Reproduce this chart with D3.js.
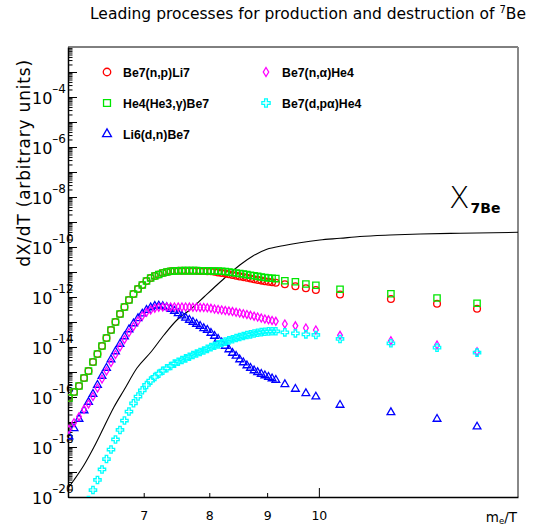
<!DOCTYPE html>
<html><head><meta charset="utf-8">
<script src="https://cdn.jsdelivr.net/npm/d3@7"></script>
<style>html,body{margin:0;padding:0;background:#fff}svg{display:block}</style>
</head><body>
<svg id="chart" width="538" height="531"></svg>
<script>
// ---------- data ----------
const xValues = [6.012, 6.074, 6.136, 6.199, 6.256, 6.313, 6.371, 6.430, 6.489, 6.549,
 6.609, 6.670, 6.731, 6.793, 6.856, 6.919, 6.980, 7.040, 7.100, 7.160,
 7.218, 7.277, 7.336, 7.395, 7.452, 7.510, 7.567, 7.624, 7.682, 7.738,
 7.795, 7.852, 7.910, 7.968, 8.027, 8.086, 8.145, 8.205, 8.265, 8.326,
 8.387, 8.449, 8.511, 8.574, 8.637, 8.700, 8.764, 8.828, 8.893, 8.959,
 9.025, 9.091, 9.161, 9.331, 9.533, 9.739, 9.939, 10.44, 11.58, 12.72, 13.80];

const seriesNames = ["Be7(n,p)Li7", "He4(He3,\u03b3)Be7", "Li6(d,n)Be7", "Be7(n,\u03b1)He4", "Be7(d,p\u03b1)He4"];

const be7npLi7 = [9.12e-17, 1.585e-16, 2.754e-16, 5.754e-16, 1.096e-15, 2.512e-15, 5.248e-15, 1.096e-14, 2.291e-14, 4.786e-14,
 1.0e-13, 2.089e-13, 3.981e-13, 7.586e-13, 1.318e-12, 2.089e-12, 3.02e-12, 4.365e-12, 5.754e-12, 6.918e-12,
 7.943e-12, 9.12e-12, 1.0e-11, 1.067e-11, 1.096e-11, 1.12e-11, 1.13e-11, 1.13e-11, 1.13e-11, 1.12e-11,
 1.11e-11, 1.10e-11, 1.09e-11, 1.08e-11, 1.067e-11, 1.02e-11, 9.64e-12, 9.12e-12, 8.63e-12, 8.09e-12,
 7.59e-12, 7.11e-12, 6.67e-12, 6.25e-12, 5.86e-12, 5.5e-12, 5.15e-12, 4.83e-12, 4.53e-12, 4.29e-12,
 4.06e-12, 3.87e-12, 3.73e-12, 3.22e-12, 2.68e-12, 2.23e-12, 1.905e-12, 1.259e-12, 8.32e-13, 5.4e-13, 3.4e-13];

const he4He3gBe7 = [9.12e-17, 1.585e-16, 2.754e-16, 5.754e-16, 1.096e-15, 2.512e-15, 5.248e-15, 1.096e-14, 2.291e-14, 4.786e-14,
 1.0e-13, 2.089e-13, 3.981e-13, 7.586e-13, 1.318e-12, 2.089e-12, 3.02e-12, 4.365e-12, 5.754e-12, 6.918e-12,
 7.943e-12, 9.12e-12, 1.0e-11, 1.067e-11, 1.096e-11, 1.12e-11, 1.13e-11, 1.13e-11, 1.13e-11, 1.13e-11,
 1.13e-11, 1.12e-11, 1.12e-11, 1.11e-11, 1.10e-11, 1.10e-11, 1.096e-11, 1.076e-11, 1.047e-11, 1.0e-11,
 9.55e-12, 9.12e-12, 8.71e-12, 8.32e-12, 7.87e-12, 7.45e-12, 7.05e-12, 6.67e-12, 6.31e-12, 6.03e-12,
 5.75e-12, 5.6e-12, 5.45e-12, 4.49e-12, 4.06e-12, 3.31e-12, 2.94e-12, 2.05e-12, 1.355e-12, 9.12e-13, 5.6e-13];

const li6dnBe7 = [2.63e-18, 5.6e-18, 1.318e-17, 2.884e-17, 6.31e-17, 1.318e-16, 3.02e-16, 6.92e-16, 1.445e-15, 3.16e-15,
 6.61e-15, 1.318e-14, 2.63e-14, 5.01e-14, 8.71e-14, 1.406e-13, 2.15e-13, 3.02e-13, 3.8e-13, 4.37e-13,
 4.49e-13, 4.25e-13, 3.87e-13, 3.31e-13, 2.75e-13, 2.23e-13, 1.786e-13, 1.472e-13, 1.202e-13, 1.0e-13,
 8.32e-14, 6.92e-14, 5.6e-14, 4.79e-14, 3.63e-14, 2.75e-14, 2.09e-14, 1.514e-14, 1.096e-14, 7.94e-15,
 5.75e-15, 4.37e-15, 3.16e-15, 2.4e-15, 1.82e-15, 1.445e-15, 1.148e-15, 9.73e-16, 8.32e-16, 7.24e-16,
 6.31e-16, 5.5e-16, 4.79e-16, 3.22e-16, 2.09e-16, 1.406e-16, 1.028e-16, 4.79e-17, 2.44e-17, 1.318e-17, 6.49e-18];

const be7naHe4 = [5.1e-18, 9.38e-18, 1.63e-17, 3.22e-17, 5.25e-17, 1.047e-16, 2.29e-16, 5.25e-16, 1.096e-15, 2.4e-15,
 5.01e-15, 1.0e-14, 2.0e-14, 3.8e-14, 6.61e-14, 1.096e-13, 1.738e-13, 2.44e-13, 3.02e-13, 3.53e-13,
 3.87e-13, 3.98e-13, 4.0e-13, 4.0e-13, 4.0e-13, 4.0e-13, 3.98e-13, 3.98e-13, 3.95e-13, 3.9e-13,
 3.87e-13, 3.83e-13, 3.8e-13, 3.72e-13, 3.53e-13, 3.31e-13, 3.16e-13, 3.02e-13, 2.88e-13, 2.75e-13,
 2.61e-13, 2.44e-13, 2.29e-13, 2.15e-13, 2.0e-13, 1.85e-13, 1.71e-13, 1.585e-13, 1.445e-13, 1.318e-13,
 1.225e-13, 1.148e-13, 1.067e-13, 8.32e-14, 7.05e-14, 5.75e-14, 4.79e-14, 2.94e-14, 1.786e-14, 1.202e-14, 6.49e-15];

const be7dpaHe4 = [null, null, null, null, 7.59e-21, 1.905e-20, 4.79e-20, 1.259e-19, 3.31e-19, 7.94e-19,
 2.0e-18, 4.79e-18, 1.148e-17, 2.63e-17, 5.6e-17, 1.047e-16, 1.854e-16, 3.02e-16, 4.49e-16, 6.31e-16,
 8.55e-16, 1.127e-15, 1.406e-15, 1.738e-15, 2.15e-15, 2.58e-15, 3.02e-15, 3.53e-15, 4.09e-15, 4.79e-15,
 5.5e-15, 6.31e-15, 7.24e-15, 8.47e-15, 9.82e-15, 1.117e-14, 1.27e-14, 1.445e-14, 1.644e-14, 1.837e-14,
 2.05e-14, 2.29e-14, 2.51e-14, 2.75e-14, 3.02e-14, 3.22e-14, 3.47e-14, 3.7e-14, 3.91e-14, 4.09e-14,
 4.21e-14, 4.25e-14, 4.25e-14, 3.87e-14, 3.53e-14, 3.22e-14, 3.02e-14, 2.09e-14, 1.406e-14, 9.38e-15, 5.92e-15];

// abundance curve X_7Be
const curveX = [6.0, 6.074, 6.199, 6.326, 6.456, 6.589, 6.725, 6.905, 7.104, 7.295, 7.490, 7.707, 7.913, 8.125,
 8.292, 8.514, 8.743, 8.995, 9.293, 9.620, 10.02, 10.44, 10.87, 11.56, 12.29, 13.33, 15.0];
const curveY = [2.23e-20, 4.79e-20, 1.905e-19, 1.0e-18, 6.31e-18, 3.98e-17, 1.905e-16, 1.445e-15, 6.31e-15, 3.02e-14,
 1.202e-13, 3.31e-13, 1.0e-12, 3.02e-12, 6.92e-12, 1.905e-11, 4.37e-11, 8.09e-11, 1.127e-10, 1.486e-10,
 1.905e-10, 2.23e-10, 2.63e-10, 3.02e-10, 3.31e-10, 3.56e-10, 3.87e-10];

const xTickValues = [7, 8, 9, 10];
const xTickLabels = ["7", "8", "9", "10"];
const yLabelExponents = [-20, -18, -16, -14, -12, -10, -8, -6, -4];

// ---------- layout ----------
const FONT = "'DejaVu Sans', sans-serif";
const P = {left: 68, right: 518, top: 47, bottom: 497};
const svg = d3.select("#chart");
svg.append("rect").attr("width", 538).attr("height", 531).attr("fill", "#fff");

const x = d3.scaleLog().domain([6, 15]).range([P.left, P.right]);
const y = d3.scaleLog().domain([1e-20, 1e-2]).range([P.bottom, P.top]);

svg.append("defs").append("clipPath").attr("id", "plotclip")
  .append("rect").attr("x", P.left).attr("y", P.top)
  .attr("width", P.right - P.left).attr("height", P.bottom - P.top);

// title
const title = svg.append("text").attr("x", 90).attr("y", 19)
  .attr("font-family", FONT).attr("font-size", 15.5).attr("fill", "#000");
title.append("tspan").text("Leading processes for production and destruction of ");
title.append("tspan").attr("font-size", 10).attr("dy", -6).text("7");
title.append("tspan").attr("dy", 6).text("Be");

// frame (top thin black, right grey)
svg.append("line").attr("x1", P.left).attr("x2", P.right).attr("y1", P.top).attr("y2", P.top)
  .attr("stroke", "#000").attr("stroke-width", 1);
svg.append("line").attr("x1", P.right).attr("x2", P.right).attr("y1", P.top).attr("y2", P.bottom)
  .attr("stroke", "#888").attr("stroke-width", 2);

// x axis
const xAxis = d3.axisBottom(x).tickValues(xTickValues)
  .tickFormat((d, i) => xTickLabels[i]).tickSizeInner(-4).tickSizeOuter(0).tickPadding(14);
const gx = svg.append("g").attr("transform", `translate(0,${P.bottom})`).call(xAxis);
gx.attr("font-family", FONT).attr("font-size", 12.5);
gx.select(".domain").attr("stroke", "#000").attr("stroke-width", 1.5);
gx.selectAll(".tick line").attr("y2", d => d === 10 ? -9 : -4).attr("stroke", "#000");
gx.selectAll(".tick text").attr("fill", "#000");

// x axis title m_e/T
const xt = svg.append("text").attr("x", 517).attr("y", 522).attr("text-anchor", "end")
  .attr("font-family", FONT).attr("font-size", 13.5).attr("fill", "#000");
xt.append("tspan").text("m");
xt.append("tspan").attr("font-size", 8.5).attr("dy", 2).text("e");
xt.append("tspan").attr("dy", -2).text("/T");

// y axis
const yTicks = [];
for (let e = -20; e < -2; e++) for (let m = 1; m <= 9; m++) yTicks.push(m * Math.pow(10, e));
const isMajor = d => Math.abs(Math.log10(d) - Math.round(Math.log10(d))) < 1e-6;
const yAxis = d3.axisLeft(y).tickValues(yTicks).tickFormat("").tickSizeInner(-4.5).tickSizeOuter(0);
const gy = svg.append("g").attr("transform", `translate(${P.left},0)`).call(yAxis);
gy.select(".domain").attr("stroke", "#000").attr("stroke-width", 1.5);
gy.selectAll(".tick line").attr("x2", d => isMajor(d) ? 9 : 4.5).attr("stroke", "#000");
gy.selectAll(".tick text").remove();
gy.selectAll(".tick").filter(d => isMajor(d) && yLabelExponents.includes(Math.round(Math.log10(d))))
  .each(function(d) {
    const e = Math.round(Math.log10(d));
    const t = d3.select(this).append("text").attr("x", -36).attr("y", 6)
      .attr("text-anchor", "start").attr("font-family", FONT).attr("font-size", 16).attr("fill", "#000");
    t.append("tspan").text("10");
    t.append("tspan").attr("dy", -11).attr("font-size", 12).text("\u2013" + Math.abs(e));
  });

// y axis title
svg.append("text").attr("transform", "translate(30,163) rotate(-90)")
  .attr("text-anchor", "middle").attr("font-family", FONT).attr("font-size", 17)
  .attr("letter-spacing", 0.8).attr("fill", "#000").text("dX/dT (arbitrary units)");

// ---------- marks ----------
const plot = svg.append("g").attr("clip-path", "url(#plotclip)");

plot.append("path")
  .datum(curveX.map((v, i) => [v, curveY[i]]))
  .attr("d", d3.line().x(d => x(d[0])).y(d => y(d[1])).curve(d3.curveMonotoneX))
  .attr("fill", "none").attr("stroke", "#000").attr("stroke-width", 1.1);

const narrowDiamond = {draw(ctx, size) {
  const h = Math.sqrt(size) * 0.75, w = h * 0.6;
  ctx.moveTo(0, -h); ctx.lineTo(w, 0); ctx.lineTo(0, h); ctx.lineTo(-w, 0); ctx.closePath();
}};

const series = [
  {values: be7npLi7,   color: "#ff0000", type: d3.symbolCircle,   size: 36},
  {values: he4He3gBe7, color: "#00e600", type: d3.symbolSquare,   size: 40},
  {values: li6dnBe7,   color: "#0000ff", type: d3.symbolTriangle, size: 26},
  {values: be7naHe4,   color: "#ff00ff", type: narrowDiamond,     size: 28},
  {values: be7dpaHe4,  color: "#00ffff", type: d3.symbolCross,    size: 30}
];

series.forEach(s => {
  const sym = d3.symbol().type(s.type).size(s.size);
  const pts = xValues.map((v, i) => [v, s.values[i]]).filter(p => p[1] != null);
  plot.append("g").selectAll("path").data(pts).join("path")
    .attr("transform", d => `translate(${x(d[0])},${y(d[1])})`)
    .attr("d", sym).attr("fill", "none").attr("stroke", s.color).attr("stroke-width", 1.3);
});

// legend
const legendPos = [[107, 72], [107, 103], [107, 134], [266, 72], [266, 103]];
series.forEach((s, i) => {
  const [lx, ly] = legendPos[i];
  svg.append("path").attr("transform", `translate(${lx},${ly})`)
    .attr("d", d3.symbol().type(s.type).size(s.size + 8)).attr("fill", "none")
    .attr("stroke", s.color).attr("stroke-width", 1.3);
  svg.append("text").attr("x", lx + 16).attr("y", ly + 4.5)
    .attr("font-family", "'Liberation Sans', Arial, sans-serif").attr("font-weight", "bold")
    .attr("font-size", 12.3).attr("fill", "#000").text(seriesNames[i]);
});

// X_7Be label
const lab = svg.append("text").attr("x", 449).attr("y", 208).attr("font-family", FONT).attr("fill", "#000");
lab.append("tspan").attr("font-size", 30).attr("font-weight", 200).text("X");
lab.append("tspan").attr("font-size", 14).attr("font-weight", "bold").attr("dy", 5).attr("dx", 1).text("7Be");
</script>
</body></html>
